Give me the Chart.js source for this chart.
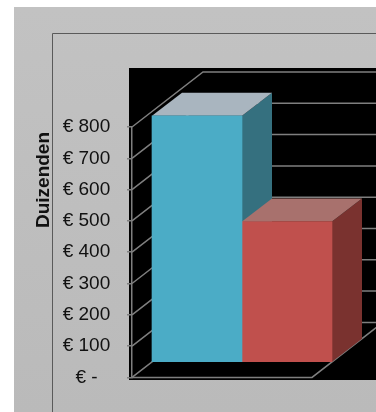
<!DOCTYPE html>
<html><head><meta charset="utf-8">
<style>html,body{margin:0;padding:0;background:#fff}#w{width:376px;height:412px;position:relative}</style>
<script src="https://cdn.jsdelivr.net/npm/chart.js@4"></script></head>
<body><div id="w"><canvas id="c" width="376" height="412"></canvas></div>
<script>
const categories = [''];
const seriesBlue = [788];
const seriesRed = [450];
const tickValues = [800,700,600,500,400,300,200,100,0];
const tickLabels = ['€ 800','€ 700','€ 600','€ 500','€ 400','€ 300','€ 200','€ 100','€ -'];
const axisTitle = 'Duizenden';

const GRID='#7f7f7f';
const WALL={dx:71,dy:-55};      // depth of the whole box
const BAR_OFF={dx:20,dy:-15};   // bars stand inside the box
const BAR_DEPTH={dx:30,dy:-23};
const faces=[{top:'#a9b5bf',side:'#35707f'},{top:'#a8716d',side:'#7a322f'}];

function line(ctx,pts,color,w){ctx.beginPath();pts.forEach((p,i)=>i?ctx.lineTo(p[0],p[1]):ctx.moveTo(p[0],p[1]));ctx.strokeStyle=color;ctx.lineWidth=w;ctx.stroke();}
function poly(ctx,pts,color){ctx.beginPath();pts.forEach((p,i)=>i?ctx.lineTo(p[0],p[1]):ctx.moveTo(p[0],p[1]));ctx.closePath();ctx.fillStyle=color;ctx.fill();}

const frame={id:'frame',
 beforeDraw(chart){const c=chart.ctx;c.save();
  c.fillStyle='#fff';c.fillRect(0,0,376,412);
  const g=c.createLinearGradient(0,7,0,412);g.addColorStop(0,'#c2c2c2');g.addColorStop(1,'#bababa');
  c.fillStyle=g;c.fillRect(14,7,362,405);
  line(c,[[52.5,412],[52.5,33.5],[376,33.5]],'#5a5a5a',1);
  c.fillStyle='#000';c.fillRect(129,68,247,312);
  c.translate(43.5,180);c.rotate(-Math.PI/2);c.font='bold 19px "Liberation Sans"';c.fillStyle='#111';c.textAlign='center';c.textBaseline='middle';c.fillText(axisTitle,0,0);
  c.restore();},
 beforeDatasetsDraw(chart){const c=chart.ctx,y=chart.scales.y,a=chart.chartArea;c.save();
  tickValues.forEach(v=>{const p=y.getPixelForValue(v);
   line(c,[[a.left,p],[a.left+WALL.dx,p+WALL.dy],[376,p+WALL.dy]],GRID,1.5);});
  const b=y.getPixelForValue(0);
  line(c,[[a.left,b],[a.right,b],[a.right+WALL.dx,b+WALL.dy]],GRID,1.5);
  chart.data.datasets.forEach((d,i)=>{chart.getDatasetMeta(i).data.forEach(el=>{
    const l=el.x-el.width/2+BAR_OFF.dx,r=el.x+el.width/2+BAR_OFF.dx,t=el.y+BAR_OFF.dy,bt=el.base+BAR_OFF.dy,dx=BAR_DEPTH.dx,dy=BAR_DEPTH.dy;
    poly(c,[[r,t],[r+dx,t+dy],[r+dx,bt+dy],[r,bt]],faces[i].side);
    poly(c,[[l,t],[l+dx,t+dy],[r+dx,t+dy],[r,t]],faces[i].top);
  });});
  c.restore();
  c.save();c.translate(BAR_OFF.dx,BAR_OFF.dy);},
 afterDatasetsDraw(chart){chart.ctx.restore();}
};

new Chart(document.getElementById('c'),{
 type:'bar',
 data:{labels:categories,datasets:[
  {label:'A',data:seriesBlue,backgroundColor:'#4bacc6',barPercentage:1,categoryPercentage:1,clip:false},
  {label:'B',data:seriesRed,backgroundColor:'#c0504d',barPercentage:1,categoryPercentage:1,clip:false}]},
 options:{responsive:false,animation:false,devicePixelRatio:1,
  layout:{padding:{top:127,bottom:34.6,left:0,right:64}},
  plugins:{legend:{display:false},tooltip:{enabled:false},title:{display:false}},
  scales:{
   x:{display:false,offset:true,grid:{display:false}},
   y:{min:0,max:800,
    afterFit(s){s.width=132;},
    grid:{drawOnChartArea:false,tickLength:5,color:GRID,lineWidth:1.5},
    border:{display:true,color:GRID,width:1.5},
    ticks:{stepSize:100,crossAlign:'center',padding:16.75,color:'#111',font:{family:'"Liberation Sans"',size:19},
     callback(v){const i=tickValues.indexOf(v);return i>=0?tickLabels[i]:'';}}
   }}},
 plugins:[frame]
});
</script></body></html>
